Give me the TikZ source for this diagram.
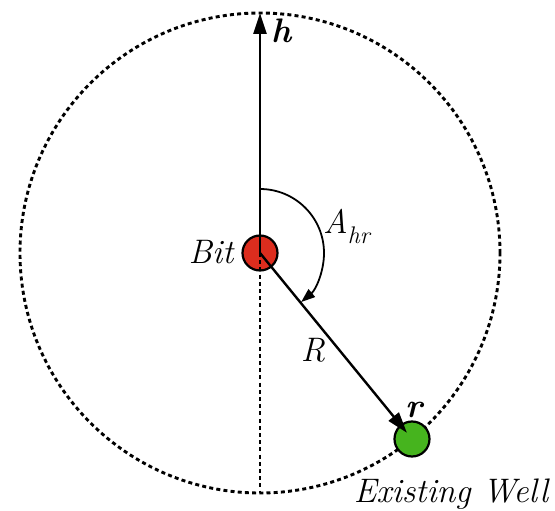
\documentclass[tikz,border=0pt]{standalone}
\usetikzlibrary{arrows.meta,calc}
\begin{document}
\begin{tikzpicture}[x=1pt,y=1pt,
  lbl/.style={font=\fontsize{34}{38}\selectfont\itshape, inner sep=0pt},
  blbl/.style={font=\fontsize{34}{38}\selectfont\bfseries\itshape, inner sep=0pt},
  dotline/.style={line width=2.9pt, dash pattern=on 4pt off 3.2pt},
  mainarrow/.style={line width=2.4pt, -{Triangle[length=21pt,width=13pt]}},
  ball/.style={circle, draw, line width=2.2pt, minimum size=35pt, inner sep=0pt}]
\useasboundingbox (0,0) rectangle (555,-511);
\coordinate (c) at (260,-253);
\coordinate (top) at (260,-13);
\coordinate (bot) at (260,-493);
\draw[dotline] (c) circle[radius=240];
\node[ball, fill={rgb,255:red,220;green,45;blue,30}] (bit) at (c) {};
\node[ball, fill={rgb,255:red,70;green,180;blue,30}] (well) at (412,-439) {};
\coordinate (rtip) at ($(well.center)!8pt!(bit.center)$);
\draw[dotline] (bit.center) -- (bot);
\draw[mainarrow] (bit.center) -- (top);
\draw[mainarrow] (bit.center) -- (rtip);
\draw[line width=1.8pt, -{Triangle[length=14pt,width=10pt]}] ($(c)+(0,64)$) arc[start angle=90, end angle=-50, radius=64];
\node[blbl] (h) at (282,-31) {h};
\node[lbl, anchor=base west] (A) at (323,-233) {A\raisebox{-10pt}{\fontsize{24}{26}\selectfont hr}};
\node[lbl] (bitl) at (211,-252) {Bit};
\node[lbl] (R) at (313,-350) {R};
\node[blbl] (r) at (414,-410) {r};
\node[lbl] (ew) at (451,-494) {Existing Well};
\end{tikzpicture}
\end{document}
